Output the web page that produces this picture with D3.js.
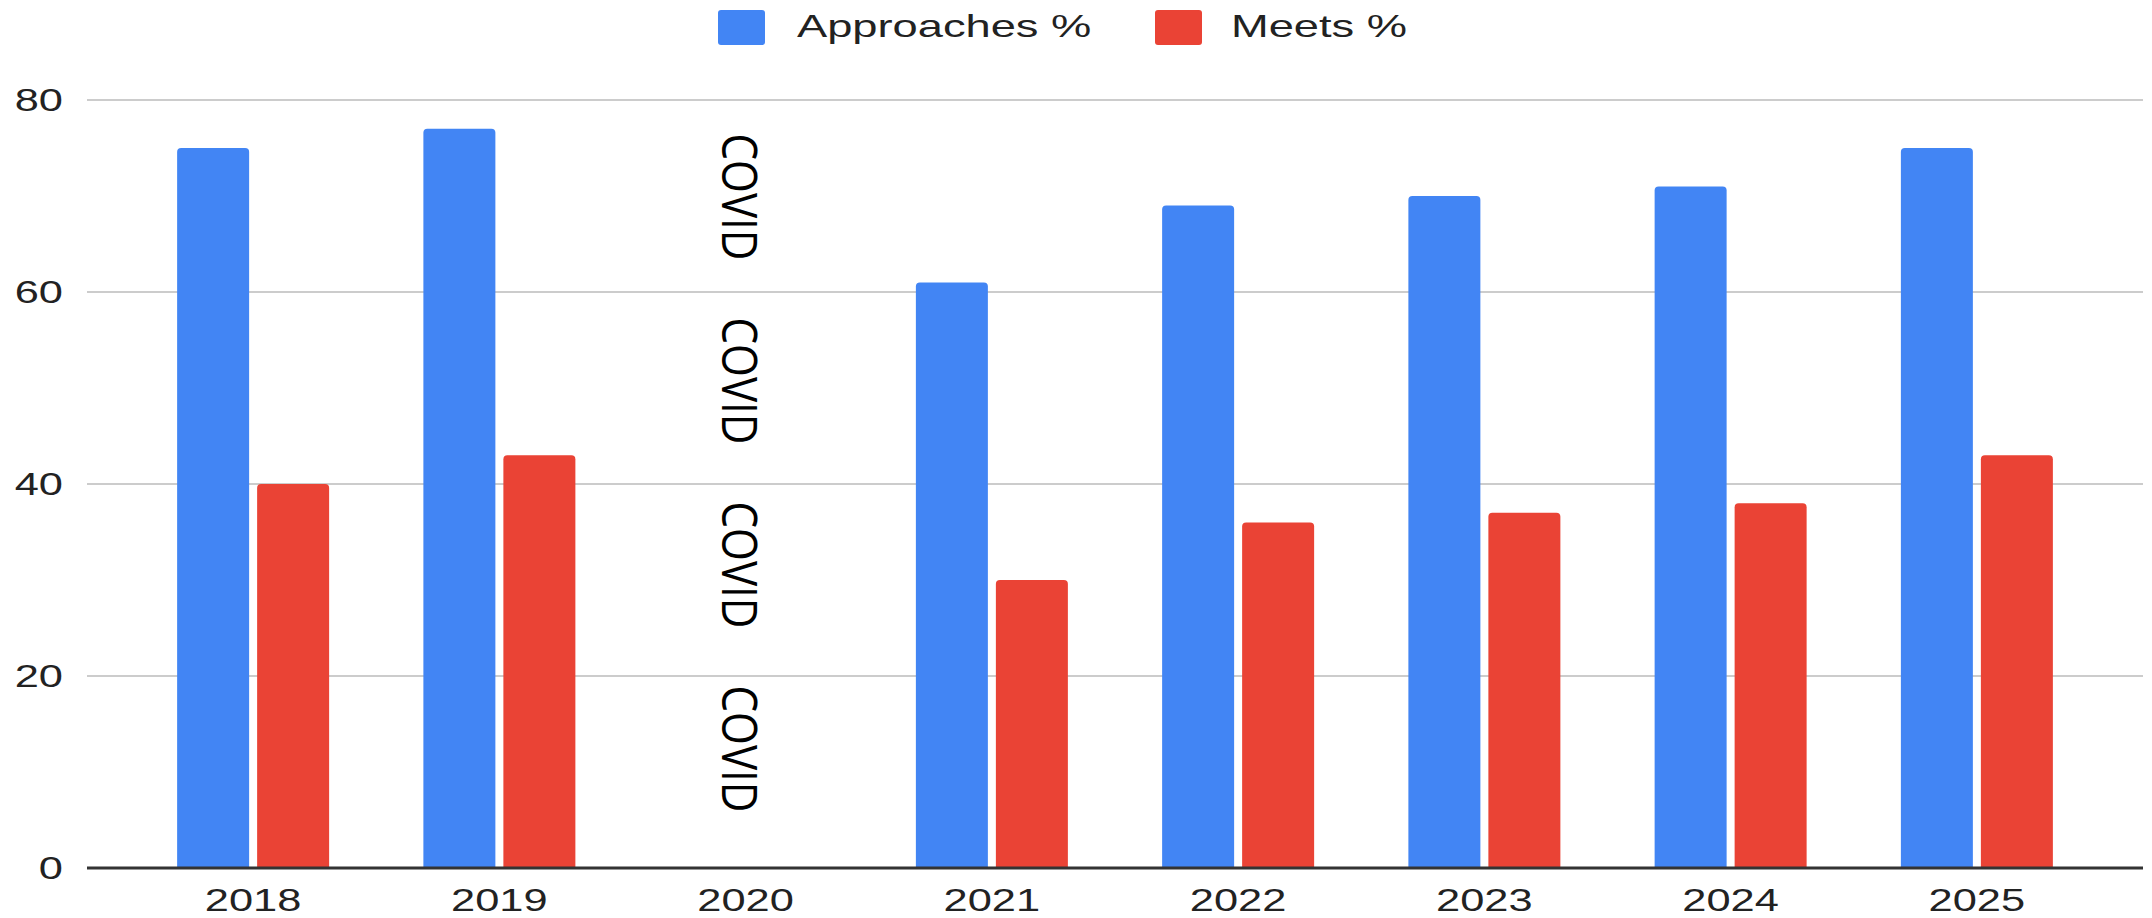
<!DOCTYPE html>
<html>
<head>
<meta charset="utf-8">
<script src="https://cdn.jsdelivr.net/npm/d3@7"></script>
<style>
  html, body { margin: 0; padding: 0; background: #fff; }
  svg { display: block; }
</style>
</head>
<body>
<svg id="chart" width="2152" height="918"></svg>
<script>
// Yearly results: share of students at "Approaches" and "Meets" levels
const years = ["2018", "2019", "2020", "2021", "2022", "2023", "2024", "2025"];
const approaches = [75, 77, null, 61, 69, 70, 71, 75];
const meets = [40, 43, null, 30, 36, 37, 38, 43];
const seriesNames = ["Approaches %", "Meets %"];
const seriesColors = ["#4285F4", "#EA4335"];
const yTicks = [0, 20, 40, 60, 80];
const gapNote = "COVID";
const gapNoteCount = 4;

const svg = d3.select("#chart");
const gridLeft = 87, gridRight = 2143;
const plotTop = 100, plotBottom = 868;

const x = d3.scaleBand().domain(years).range([130, 2100]);
const y = d3.scaleLinear().domain([0, 80]).range([plotBottom, plotTop]);

const barW = 72, barGap = 8;
const axisStretch = 1.4;     // axis text is drawn wide
const legendStretch = 1.46;  // legend text is drawn wider still

// horizontal gridlines
svg.append("g").selectAll("line")
  .data(yTicks.filter(d => d !== 0))
  .join("line")
  .attr("x1", gridLeft).attr("x2", gridRight)
  .attr("y1", d => y(d)).attr("y2", d => y(d))
  .attr("stroke", "#cccccc").attr("stroke-width", 2);

// y tick labels
svg.append("g").selectAll("text")
  .data(yTicks)
  .join("text")
  .attr("transform", d => `translate(63,${y(d) + 11}) scale(${axisStretch},1)`)
  .attr("text-anchor", "end")
  .attr("font-family", "Liberation Sans, Arial, sans-serif")
  .attr("font-size", 31)
  .attr("fill", "#222")
  .text(d => d);

// bars with slightly rounded tops
function topRoundedRect(x0, y0, w, h, r) {
  r = Math.min(r, h, w / 2);
  return `M${x0},${y0 + h}V${y0 + r}Q${x0},${y0} ${x0 + r},${y0}H${x0 + w - r}Q${x0 + w},${y0} ${x0 + w},${y0 + r}V${y0 + h}Z`;
}

const series = [approaches, meets];
series.forEach((vals, si) => {
  svg.append("g").selectAll("path")
    .data(years.map((yr, i) => ({ yr, v: vals[i] })).filter(d => d.v != null))
    .join("path")
    .attr("fill", seriesColors[si])
    .attr("d", d => {
      const cx = x(d.yr) + x.bandwidth() / 2;
      const x0 = si === 0 ? cx - barGap / 2 - barW : cx + barGap / 2;
      return topRoundedRect(x0, y(d.v), barW, plotBottom - y(d.v), 4);
    });
});

// baseline
svg.append("line")
  .attr("x1", gridLeft).attr("x2", gridRight)
  .attr("y1", y(0)).attr("y2", y(0))
  .attr("stroke", "#333").attr("stroke-width", 3);

// x labels
svg.append("g").selectAll("text")
  .data(years)
  .join("text")
  .attr("transform", d => `translate(${x(d) + x.bandwidth() / 2},911) scale(${axisStretch},1)`)
  .attr("text-anchor", "middle")
  .attr("font-family", "Liberation Sans, Arial, sans-serif")
  .attr("font-size", 31)
  .attr("fill", "#222")
  .text(d => d);

// vertical notes in the empty 2020 slot
const noteX = x("2020") + x.bandwidth() / 2 - 5;
const noteCenters = d3.range(gapNoteCount).map(i => 197 + i * 184);
svg.append("g").selectAll("text")
  .data(noteCenters)
  .join("text")
  .attr("transform", d => `translate(${noteX},${d}) rotate(90)`)
  .attr("text-anchor", "middle")
  .attr("dominant-baseline", "central")
  .attr("font-family", "Open Sans, Lato, sans-serif")
  .attr("font-size", 50)
  .attr("textLength", 127)
  .attr("lengthAdjust", "spacingAndGlyphs")
  .attr("fill", "#000")
  .text(gapNote);

// legend
const legendItems = [
  { name: seriesNames[0], color: seriesColors[0], sx: 718, tx: 797 },
  { name: seriesNames[1], color: seriesColors[1], sx: 1155, tx: 1231 }
];
const lg = svg.append("g");
legendItems.forEach(it => {
  lg.append("rect")
    .attr("x", it.sx).attr("y", 10).attr("width", 47).attr("height", 35)
    .attr("rx", 3).attr("fill", it.color);
  lg.append("text")
    .attr("transform", `translate(${it.tx},37) scale(${legendStretch},1)`)
    .attr("font-family", "Liberation Sans, Arial, sans-serif")
    .attr("font-size", 31)
    .attr("fill", "#222")
    .text(it.name);
});
</script>
</body>
</html>
